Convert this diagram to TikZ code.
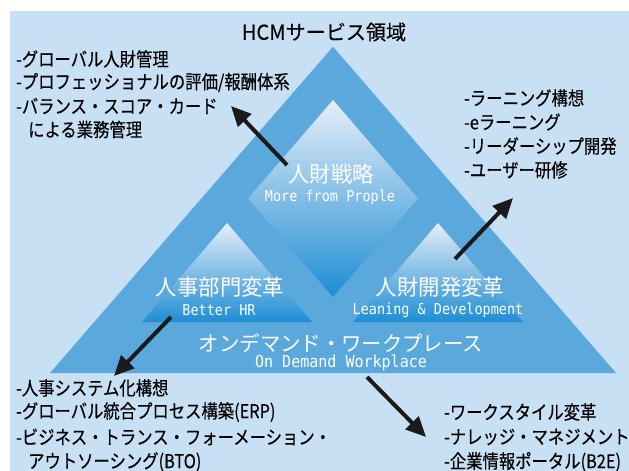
\documentclass[tikz,border=0pt]{standalone}
\usepackage{fontspec}
\usetikzlibrary{arrows.meta}
\newfontfamily\jplist[FakeStretch=0.86,FakeBold=0.3]{Noto Sans CJK JP}
\newfontfamily\jptitle[FakeStretch=0.98,FakeBold=0.3]{Noto Sans CJK JP}
\newfontfamily\jplab[FakeStretch=0.97]{Noto Sans CJK JP}
\newfontfamily\latmono[FakeStretch=0.9]{DejaVu Sans Mono}
\newfontfamily\latmonob[FakeStretch=0.91]{DejaVu Sans Mono}
\definecolor{bgblue}{HTML}{C8E0F3}
\definecolor{midblue}{HTML}{5AA8DC}
\definecolor{topw}{HTML}{E6EEF8}
\definecolor{midg}{HTML}{8FBBE4}
\definecolor{deep}{HTML}{1E8DD4}
\definecolor{arrowk}{HTML}{1A1A1A}
\tikzset{
  listtxt/.style={anchor=west, inner sep=0pt, text=black, font=\jplist\fontsize{19}{21}\selectfont},
  labjp/.style={inner sep=0pt, text=white, font=\jplab\fontsize{22}{24}\selectfont},
  laben/.style={inner sep=0pt, text=white, font=\latmono\fontsize{15}{17}\selectfont},
  arr/.style={draw=arrowk, line width=4pt, -{Triangle[length=20pt,width=18pt]}},
  gradtri/.style={top color=topw, middle color=midg, bottom color=deep}
}
\begin{document}
\begin{tikzpicture}[x=1pt,y=-1pt]
\useasboundingbox (0,0) rectangle (629,471);
% background
\fill[bgblue] (10,11) rectangle (629,471);
% big triangle
\fill[midblue] (333,46.7) -- (616,373) -- (50,373) -- cycle;
% diamond
\shade[gradtri] (333,100) -- (418,198.5) -- (333,297) -- (248,198.5) -- cycle;
% small triangles
\shade[gradtri] (227,223) -- (312,322) -- (142,322) -- cycle;
\shade[gradtri] (438,223) -- (523,322) -- (353,322) -- cycle;

% title
\node[inner sep=0pt, font=\jptitle\fontsize{20.5}{22}\selectfont] (title) at (324,32) {HCMサービス領域};

% inner labels
\node[labjp] (strat) at (331,174) {人財戦略};
\node[laben] (strate) at (330,197) {More from Prople};
\node[labjp] (hr) at (220,287) {人事部門変革};
\node[laben] (hre) at (219,310) {Better HR};
\node[labjp] (dev) at (440,287) {人財開発変革};
\node[laben] (deve) at (438,310) {Leaning \& Development};
\node[labjp, font=\jplab\fontsize{21}{23}\selectfont] (odw) at (341,343) {オンデマンド・ワークプレース};
\node[laben, font=\latmonob\fontsize{16.5}{18}\selectfont] (odwe) at (341,363) {On Demand Workplace};

% upper-left list
\node[listtxt] (ul1) at (16,59) {-グローバル人財管理};
\node[listtxt] (ul2) at (16,82.5) {-プロフェッショナルの評価/報酬体系};
\node[listtxt] (ul3) at (16,106) {-バランス・スコア・カード};
\node[listtxt] (ul4) at (28,129.5) {による業務管理};

% upper-right list
\node[listtxt] (ur1) at (464,98) {-ラーニング構想};
\node[listtxt] (ur2) at (464,122) {-eラーニング};
\node[listtxt] (ur3) at (464,146) {-リーダーシップ開発};
\node[listtxt] (ur4) at (464,170) {-ユーザー研修};

% lower-left list
\node[listtxt] (ll1) at (16,388) {-人事システム化構想};
\node[listtxt] (ll2) at (16,412) {-グローバル統合プロセス構築(ERP)};
\node[listtxt] (ll3) at (16,437) {-ビジネス・トランス・フォーメーション・};
\node[listtxt] (ll4) at (28,462) {アウトソーシング(BTO)};

% lower-right list
\node[listtxt] (lr1) at (444,412) {-ワークスタイル変革};
\node[listtxt] (lr2) at (444,437) {-ナレッジ・マネジメント};
\node[listtxt] (lr3) at (444,462) {-企業情報ポータル(B2E)};

% arrows
\coordinate (a1s) at (287,165);
\coordinate (a1e) at (231,106);
\coordinate (a2s) at (455,259);
\coordinate (a2e) at (513,198);
\coordinate (a3s) at (171,317);
\coordinate (a3e) at (114,376);
\coordinate (a4s) at (367,377);
\coordinate (a4e) at (426,437);
\draw[arr] (a1s) -- (a1e);
\draw[arr] (a2s) -- (a2e);
\draw[arr] (a3s) -- (a3e);
\draw[arr] (a4s) -- (a4e);
\end{tikzpicture}
\end{document}
